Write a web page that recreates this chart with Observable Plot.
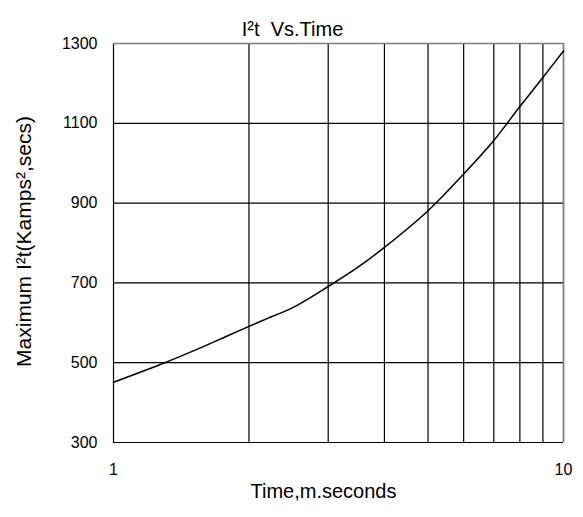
<!DOCTYPE html>
<html><head><meta charset="utf-8">
<script src="https://cdn.jsdelivr.net/npm/d3@7"></script>
<script src="https://cdn.jsdelivr.net/npm/@observablehq/plot@0.6"></script>
<style>body{margin:0;background:#fff}</style>
</head><body><div id="chart"></div>
<script>
const times = [1, 1.3, 1.5, 1.75, 2, 2.2, 2.5, 3, 3.5, 4, 5, 6, 7, 8, 9, 10];
const values = [451, 500, 529, 562, 591, 611, 638, 691, 740, 789, 881, 973, 1057, 1142, 1215, 1281];
const xGrid = [1, 2, 3, 4, 5, 6, 7, 8, 9, 10];
const xTickLabels = [1, 10];
const yTicks = [300, 500, 700, 900, 1100, 1300];
const titleText = "I²t  Vs.Time";
const xLabel = "Time,m.seconds";
const yLabel = "Maximum I²t(Kamps²,secs)";

const data = times.map((t, i) => ({t, v: values[i]}));
const font = "'Liberation Sans', Arial, sans-serif";

const chart = Plot.plot({
  width: 583, height: 517,
  marginLeft: 113, marginRight: 20, marginTop: 43, marginBottom: 75,
  style: {fontFamily: font, fontSize: "16px", background: "white", color: "black"},
  x: {type: "log", domain: [1, 10]},
  y: {domain: [300, 1300]},
  marks: [
    Plot.ruleX(xGrid, {stroke: "black", strokeWidth: 1.2}),
    Plot.ruleY(yTicks, {stroke: "black", strokeWidth: 1.2}),
    Plot.ruleY([1300], {stroke: "#808080", strokeWidth: 1.5}),
    Plot.ruleX([10], {stroke: "#808080", strokeWidth: 1.5}),
    Plot.axisX(xTickLabels, {tickSize: 0, tickPadding: 21, tickFormat: d => String(d), label: null, fontSize: 16}),
    Plot.axisY(yTicks, {tickSize: 0, tickPadding: 16, tickFormat: d => String(d), label: null, fontSize: 16}),
    Plot.line(data, {x: "t", y: "v", stroke: "black", strokeWidth: 1.5, curve: "catmull-rom"}),
    Plot.text([titleText], {frameAnchor: "top-left", dx: 179, dy: -22, textAnchor: "middle", fontSize: 20}),
    Plot.text([xLabel], {frameAnchor: "bottom", dx: -15, dy: 55, textAnchor: "middle", fontSize: 20}),
    Plot.text([yLabel], {frameAnchor: "left", dx: -89, dy: -1.5, rotate: -90, textAnchor: "middle", fontSize: 21})
  ]
});
document.getElementById("chart").appendChild(chart);
</script>
</body></html>
